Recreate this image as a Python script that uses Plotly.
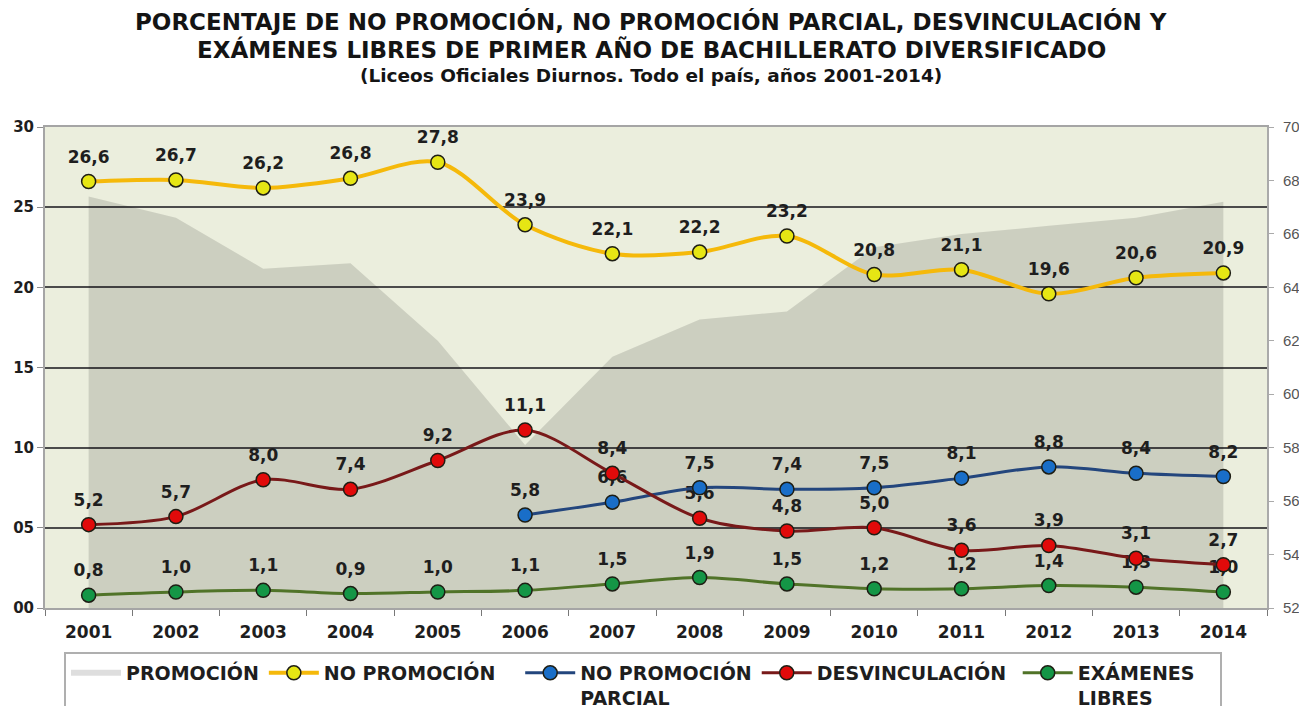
import plotly.graph_objects as go

years = ["2001", "2002", "2003", "2004", "2005", "2006", "2007",
         "2008", "2009", "2010", "2011", "2012", "2013", "2014"]
promocion = [67.4, 66.6, 64.7, 64.9, 62.0, 58.1, 61.4,
             62.8, 63.1, 65.5, 66.0, 66.3, 66.6, 67.2]
no_promocion = [26.6, 26.7, 26.2, 26.8, 27.8, 23.9, 22.1,
                22.2, 23.2, 20.8, 21.1, 19.6, 20.6, 20.9]
no_prom_parcial = [None, None, None, None, None, 5.8, 6.6,
                   7.5, 7.4, 7.5, 8.1, 8.8, 8.4, 8.2]
desvinculacion = [5.2, 5.7, 8.0, 7.4, 9.2, 11.1, 8.4,
                  5.6, 4.8, 5.0, 3.6, 3.9, 3.1, 2.7]
examenes_libres = [0.8, 1.0, 1.1, 0.9, 1.0, 1.1, 1.5,
                   1.9, 1.5, 1.2, 1.2, 1.4, 1.3, 1.0]
left_ticks = [0, 5, 10, 15, 20, 25, 30]
left_ticktext = ["00", "05", "10", "15", "20", "25", "30"]
right_ticks = [52, 54, 56, 58, 60, 62, 64, 66, 68, 70]
right_ticktext = ["52,0%", "54,0%", "56,0%", "58,0%", "60,0%",
                  "62,0%", "64,0%", "66,0%", "68,0%", "70,0%"]

BOLD = "DejaVu Sans, Liberation Sans, Arial, sans-serif"
PLAIN = "Liberation Sans, Arial, sans-serif"
TXT = "rgb(30,30,30)"
NB = "\u00a0"

# the page body adds an 8px offset; the figure is sized to fit the window
OFF = 8
W, H = 1307 - OFF, 706 - OFF
ML, MT = 45 - OFF, 127 - OFF
PR, PB = 1267 - OFF, 608 - OFF
MR, MB = W - PR, H - PB
PW, PH = PR - ML, PB - MT


def fmt(v):
    return "" if v is None else f"{v:.1f}".replace(".", ",")


def px_x(sx):
    return (sx - OFF - ML) / PW


def px_y(sy):
    return (PB - (sy - OFF)) / PH


fig = go.Figure()

# area (base axis "y", right side)
fig.add_trace(go.Scatter(
    x=years, y=promocion, yaxis="y", name="PROMOCIÓN",
    mode="none", fill="tozeroy", fillcolor="rgba(0,0,0,0.13)",
    hoverinfo="skip",
))

series = [
    ("NO PROMOCIÓN" + NB * 3, no_promocion, "rgb(245,185,10)", "rgb(230,230,20)", 4),
    ("NO PROMOCIÓN<br>PARCIAL", no_prom_parcial, "rgb(35,70,125)", "rgb(25,110,200)", 3),
    ("DESVINCULACIÓN" + NB, desvinculacion, "rgb(120,25,25)", "rgb(225,10,10)", 3),
    ("EXÁMENES" + NB * 3 + "<br>LIBRES", examenes_libres, "rgb(80,115,40)", "rgb(20,150,70)", 3),
]

# value labels (drawn first so the lines and markers sit on top)
for name, vals, lc, mc, lw in series:
    fig.add_trace(go.Scatter(
        x=years, y=vals, yaxis="y2", mode="markers+text", showlegend=False,
        marker=dict(size=22, color="rgba(0,0,0,0)", line=dict(width=0)),
        text=[fmt(v) for v in vals], textposition="top center",
        textfont=dict(family=BOLD, size=17, color=TXT, weight="bold"),
        hoverinfo="skip", cliponaxis=False,
    ))

for name, vals, lc, mc, lw in series:
    fig.add_trace(go.Scatter(
        x=years, y=vals, yaxis="y2", name=name, mode="lines+markers",
        line=dict(color=lc, width=lw, shape="spline", smoothing=0.9),
        marker=dict(size=14, color=mc, line=dict(color="rgb(30,30,20)", width=1.5)),
        connectgaps=False, cliponaxis=False,
    ))

fig.update_layout(
    width=W, height=H,
    margin=dict(l=ML, r=MR, t=MT, b=MB, autoexpand=False),
    paper_bgcolor="white",
    plot_bgcolor="rgb(235,238,221)",
    font=dict(family=BOLD, color=TXT),
    showlegend=True,
    legend=dict(
        orientation="h", x=px_x(64), xanchor="left",
        y=px_y(652), yanchor="top",
        font=dict(family=BOLD, size=19, color=TXT, weight="bold"),
        bordercolor="rgb(175,175,175)", borderwidth=2, bgcolor="white",
        itemwidth=50, traceorder="normal", valign="top",
    ),
    xaxis=dict(
        type="category", range=[-0.5, 13.5], showgrid=False,
        ticks="outside", tickson="boundaries", ticklen=6, tickcolor="rgb(120,120,120)",
        showline=True, linecolor="rgb(165,165,165)", linewidth=2, mirror=True,
        tickfont=dict(family=BOLD, size=17, color=TXT, weight="bold"),
        ticklabelstandoff=8, automargin=False,
    ),
    yaxis=dict(
        range=[52, 70], side="right",
        tickvals=right_ticks, ticktext=right_ticktext,
        showgrid=False, zeroline=False,
        ticks="outside", ticklen=5, tickcolor="rgb(170,170,170)",
        showline=True, linecolor="rgb(170,170,170)", linewidth=2,
        tickfont=dict(family=PLAIN, size=15, color="rgb(85,85,85)"),
        ticklabelstandoff=6, automargin=False,
    ),
    yaxis2=dict(
        range=[0, 30], overlaying="y", side="left",
        tickvals=left_ticks, ticktext=left_ticktext,
        showgrid=True, gridcolor="rgb(75,75,75)", gridwidth=2,
        ticks="outside", ticklen=6, tickcolor="rgb(140,140,140)",
        showline=True, linecolor="rgb(165,165,165)", linewidth=2,
        zeroline=False,
        tickfont=dict(family=BOLD, size=15, color=TXT, weight="bold"),
        automargin=False,
    ),
)

title_lines = [
    ("PORCENTAJE DE NO PROMOCIÓN, NO PROMOCIÓN PARCIAL, DESVINCULACIÓN Y", 23, 21),
    ("EXÁMENES LIBRES DE PRIMER AÑO DE BACHILLERATO DIVERSIFICADO", 23, 49),
    ("(Liceos Oficiales Diurnos. Todo el país, años 2001-2014)", 18.5, 76),
]
for txt, size, ypix in title_lines:
    fig.add_annotation(
        x=px_x(651), y=px_y(ypix),
        xref="paper", yref="paper", showarrow=False,
        xanchor="center", yanchor="middle",
        text=txt,
        font=dict(family=BOLD, size=size, color="rgb(20,20,20)", weight="bold"),
    )

fig.write_html("out.html")
